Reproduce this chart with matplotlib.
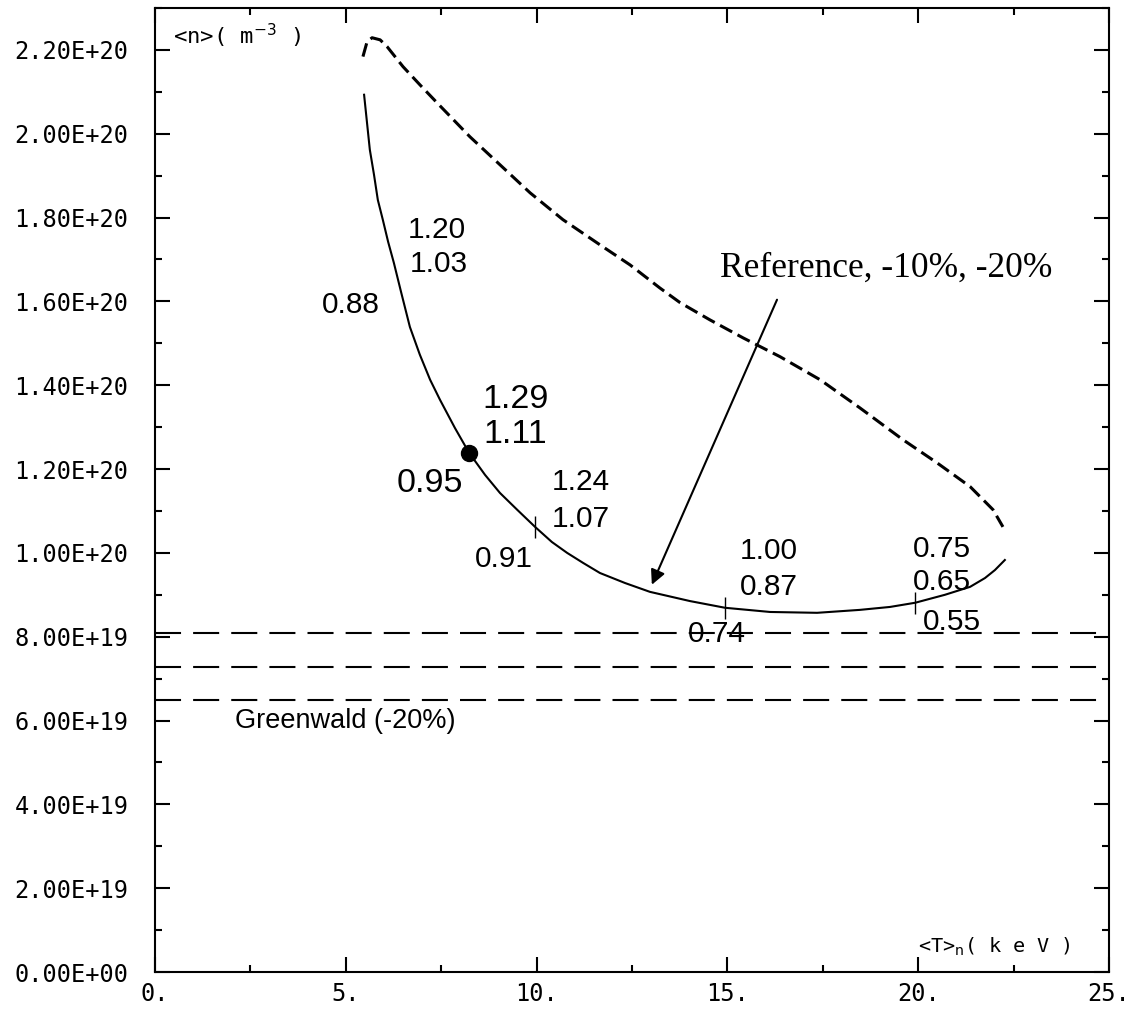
import matplotlib
matplotlib.use("Agg")
import matplotlib.pyplot as plt
import numpy as np
from matplotlib.ticker import MultipleLocator, FuncFormatter

# solid curve: <T>_n (keV) vs <n> (1e19 m^-3)
T_solid = [5.48, 5.63, 5.74, 5.84, 5.97, 6.11, 6.26, 6.45, 6.68, 6.94, 7.21,
           7.47, 7.86, 8.23, 8.65, 9.04, 9.49, 9.96, 10.40, 10.80, 11.22, 11.66,
           12.32, 12.97, 14.02, 14.94, 16.12, 17.35, 18.47, 19.26, 19.92, 20.70,
           21.36, 21.75, 22.01, 22.27]
n_solid = [20.93, 19.62, 19.02, 18.42, 17.95, 17.42, 16.92, 16.22, 15.39, 14.73, 14.13,
           13.65, 12.98, 12.39, 11.86, 11.43, 11.03, 10.62, 10.26, 10.00, 9.76, 9.52,
           9.28, 9.07, 8.85, 8.69, 8.59, 8.57, 8.64, 8.71, 8.81, 9.00,
           9.19, 9.40, 9.59, 9.83]

# dashed curve (upper branch)
T_dash = [5.45, 5.56, 5.69, 5.90, 6.08, 6.50, 6.94, 7.39, 8.25, 9.04, 9.83, 10.69,
          11.66, 12.45, 13.23, 13.76, 14.54, 15.41, 16.38, 17.43, 18.47, 19.60,
          20.49, 21.36, 21.96, 22.22]
n_dash = [21.84, 22.20, 22.29, 22.24, 22.08, 21.60, 21.17, 20.74, 19.93, 19.26, 18.59, 17.95,
          17.35, 16.87, 16.32, 15.97, 15.56, 15.13, 14.68, 14.13, 13.46, 12.70,
          12.15, 11.58, 11.03, 10.62]

# Greenwald limits: reference, -10%, -20%
greenwald = [8.09, 7.28, 6.48]

# operating point and marked points on the solid curve
op_T, op_n = 8.23, 12.39
mark_T = [9.96, 14.94, 19.92]
mark_n = [10.62, 8.69, 8.81]

# point labels
small_labels = ["1.20", "1.03", "0.88", "1.24", "1.07", "0.91",
                "1.00", "0.87", "0.74", "0.75", "0.65", "0.55"]
small_x = [6.63, 6.68, 4.38, 10.40, 10.40, 8.39, 15.33, 15.33, 13.97, 19.86, 19.86, 20.13]
small_y = [17.52, 16.71, 15.73, 11.50, 10.62, 9.67, 9.86, 9.00, 7.88, 9.90, 9.12, 8.16]
big_labels = ["1.29", "1.11", "0.95"]
big_x = [8.57, 8.60, 6.34]
big_y = [13.46, 12.63, 11.46]

E19 = 1e19

fig = plt.figure(figsize=(11.47, 10.10), dpi=100)
ax = fig.add_axes([0.1351, 0.0376, 0.8318, 0.9545])

ax.plot(T_solid, np.array(n_solid) * E19, color="black", lw=1.5)
ax.plot(T_dash, np.array(n_dash) * E19, color="black", lw=2.2, dashes=(4.5, 2))
for g in greenwald:
    ax.axhline(g * E19, color="black", lw=1.5, dashes=(12.5, 5.8))
ax.plot(op_T, op_n * E19, "o", color="black", ms=11.5)
ax.plot(mark_T, np.array(mark_n) * E19, "|", color="black", ms=16, mew=1.0)

lab_font = "Liberation Sans"
for s, x, y in zip(small_labels, small_x, small_y):
    ax.text(x, y * E19, s, fontsize=21.5, family=lab_font, va="baseline", ha="left")
for s, x, y in zip(big_labels, big_x, big_y):
    ax.text(x, y * E19, s, fontsize=24.5, family=lab_font, va="baseline", ha="left")

ax.text(2.10, 5.82 * E19, "Greenwald (-20%)", fontsize=19.5, family=lab_font,
        va="baseline", ha="left")
ax.text(14.81, 16.59 * E19, "Reference, -10%, -20%", fontsize=25.5,
        family="Liberation Serif", va="baseline", ha="left")
ax.annotate("", xy=(13.02, 9.24 * E19), xytext=(16.3, 16.04 * E19),
            arrowprops=dict(arrowstyle="-|>", color="black", lw=1.5,
                            mutation_scale=22, shrinkA=0, shrinkB=0))

mono = "DejaVu Sans Mono"
ax.text(0.019, 0.971, r"<n>( m$^{-3}$ )", transform=ax.transAxes, fontsize=16,
        family=mono, va="center", ha="left")
ax.text(0.80, 0.026, r"<T>$_\mathrm{n}$( k e V )", transform=ax.transAxes, fontsize=14.5,
        family=mono, va="center", ha="left")

ax.set_xlim(0, 25)
ax.set_ylim(0, 2.30e20)
ax.xaxis.set_major_locator(MultipleLocator(5))
ax.xaxis.set_minor_locator(MultipleLocator(2.5))
ax.yaxis.set_major_locator(MultipleLocator(2e19))
ax.yaxis.set_minor_locator(MultipleLocator(1e19))
ax.xaxis.set_major_formatter(FuncFormatter(lambda v, p: f"{int(round(v))}."))
ax.yaxis.set_major_formatter(FuncFormatter(lambda v, p: f"{v:.2E}"))
ax.tick_params(which="both", direction="in", top=True, right=True, width=1.5)
ax.tick_params(which="major", length=11)
ax.tick_params(which="minor", length=5)
ax.tick_params(axis="y", which="major", pad=19)
ax.tick_params(axis="x", which="major", pad=7)
for lbl in ax.get_xticklabels() + ax.get_yticklabels():
    lbl.set_family(mono)
    lbl.set_fontsize(17)
for sp in ax.spines.values():
    sp.set_linewidth(1.5)

fig.savefig("out.png", dpi=100)
